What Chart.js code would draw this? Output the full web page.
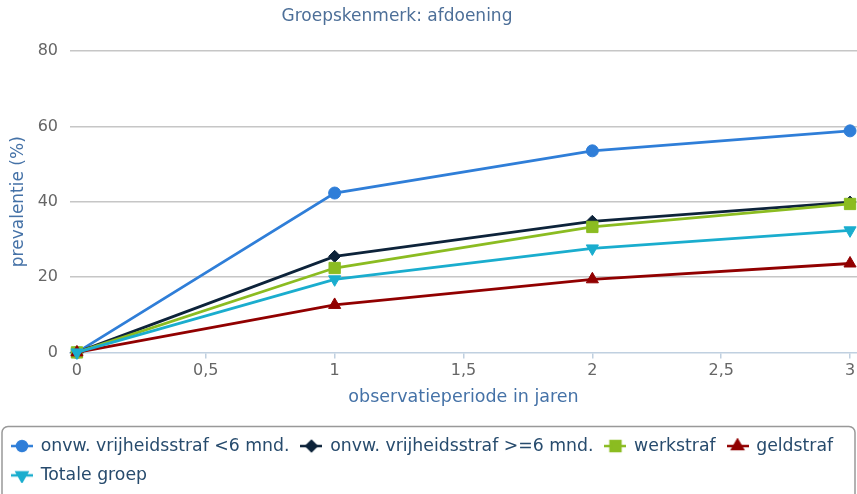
<!DOCTYPE html>
<html>
<head>
<meta charset="utf-8">
<script src="https://cdn.jsdelivr.net/npm/chart.js@4.4.1/dist/chart.umd.min.js"></script>
<style>
    html, body { margin: 0; padding: 0; background: #fff; overflow: hidden; }
    #canvas_div_id { width: 857px; height: 494px; }
</style>
</head>
<body>
<div id="canvas_div_id"><canvas id="myChart" width="857" height="494"></canvas></div>
<script>
(function(){
    'use strict';
    // chart data
    const chartTitle = 'Groepskenmerk: afdoening';
    const xAxisTitle = 'observatieperiode in jaren';
    const yAxisTitle = 'prevalentie (%)';
    const years = [0, 1, 2, 3];
    const xTicks = [0, 0.5, 1, 1.5, 2, 2.5, 3];
    const yTicks = [0, 20, 40, 60, 80];
    const seriesNames = ['onvw. vrijheidsstraf <6 mnd.', 'onvw. vrijheidsstraf >=6 mnd.', 'werkstraf', 'geldstraf', 'Totale groep'];
    const kortVrijheid = [0, 42.3, 53.5, 58.8];
    const langVrijheid = [0, 25.5, 34.8, 39.9];
    const werkstraf = [0, 22.4, 33.3, 39.4];
    const geldstraf = [0, 12.6, 19.4, 23.6];
    const totaleGroep = [0, 19.4, 27.6, 32.4];

    const seriesValues = [kortVrijheid, langVrijheid, werkstraf, geldstraf, totaleGroep];
    const colors = ['#2f7ed8', '#0d233a', '#8bbc21', '#910000', '#1aadce'];
    const markers = [
        {style: 'circle', rotation: 0, radius: 6, legendRadius: 5},
        {style: 'rectRot', rotation: 0, radius: 6, legendRadius: 5},
        {style: 'rect', rotation: 0, radius: 8, legendRadius: 7},
        {style: 'triangle', rotation: 0, radius: 7, legendRadius: 6},
        {style: 'triangle', rotation: 180, radius: 7, legendRadius: 6}
    ];
    // later series on top, like the original
    const drawOrder = [4, 3, 2, 1, 0];

    const fontFamily = '"DejaVu Sans", Verdana, sans-serif';
    const axisTitleColor = '#4572a7';
    const tickColor = '#666666';
    Chart.defaults.font.family = fontFamily;

    // legend symbol: short line with the marker in the middle
    const makeIcon = (color, marker) => {
        const c = document.createElement('canvas');
        c.width = 22;
        c.height = 16;
        const ctx = c.getContext('2d');
        ctx.strokeStyle = color;
        ctx.fillStyle = color;
        ctx.lineWidth = 2.5;
        ctx.beginPath();
        ctx.moveTo(0, 8);
        ctx.lineTo(22, 8);
        ctx.stroke();
        Chart.helpers.drawPoint(ctx, {pointStyle: marker.style, rotation: marker.rotation, radius: marker.legendRadius, borderWidth: 1}, 11, 8);
        return c;
    };
    const legendIcons = colors.map((color, i) => makeIcon(color, markers[i]));

    const datasets = seriesNames.map((name, i) => ({
        label: name,
        data: years.map((x, j) => ({x: x, y: seriesValues[i][j]})),
        borderColor: colors[i],
        backgroundColor: colors[i],
        borderWidth: 2.8,
        pointStyle: markers[i].style,
        pointRotation: markers[i].rotation,
        pointRadius: markers[i].radius,
        pointBorderWidth: 1,
        tension: 0,
        clip: false,
        order: drawOrder[i]
    }));

    const titlePlugin = {
        id: 'customTitle',
        afterDraw(chart){
            const ctx = chart.ctx;
            ctx.save();
            ctx.font = '17px ' + fontFamily;
            ctx.fillStyle = '#4d6f98';
            ctx.textAlign = 'center';
            ctx.textBaseline = 'middle';
            ctx.fillText(chartTitle, 397, 17);
            ctx.restore();
        }
    };

    // rounded frame round the legend, bottom runs off the picture
    const legendFrame = {
        id: 'legendFrame',
        afterDraw(chart){
            const lg = chart.legend;
            const ctx = chart.ctx;
            ctx.save();
            ctx.strokeStyle = '#999999';
            ctx.lineWidth = 1.5;
            ctx.beginPath();
            ctx.roundRect(lg.left + 2, lg.top + 1, lg.width - 4, lg.height + 20, 6);
            ctx.stroke();
            ctx.restore();
        }
    };

    const ctx = document.getElementById('myChart');
    new Chart(ctx, {
        type: 'line',
        data: {datasets: datasets},
        plugins: [titlePlugin, legendFrame],
        options: {
            responsive: false,
            animation: false,
            layout: {autoPadding: false, padding: {top: 51, left: 0, right: 0, bottom: 0}},
            plugins: {
                title: {display: false},
                tooltip: {enabled: false},
                legend: {
                    position: 'bottom',
                    align: 'start',
                    labels: {
                        usePointStyle: true,
                        pointStyleWidth: 20,
                        padding: 12,
                        color: '#274b6d',
                        font: {size: 17.3, family: fontFamily},
                        sort: (a, b) => a.datasetIndex - b.datasetIndex,
                        generateLabels(chart){
                            const items = Chart.defaults.plugins.legend.labels.generateLabels(chart);
                            items.forEach(item => {
                                item.pointStyle = legendIcons[item.datasetIndex];
                                item.rotation = 0;
                            });
                            return items;
                        }
                    }
                }
            },
            scales: {
                x: {
                    type: 'linear',
                    min: -0.027,
                    max: 3.027,
                    afterBuildTicks: s => { s.ticks = xTicks.map(v => ({value: v})); },
                    afterFit: s => {
                        s.height = 73;
                        s.paddingLeft = 0;
                        s.paddingRight = 0;
                    },
                    border: {color: '#c0d0e0', width: 1.5},
                    grid: {drawOnChartArea: false, drawTicks: true, tickLength: 6, color: '#c0d0e0', lineWidth: 1.5},
                    ticks: {
                        padding: 3,
                        color: tickColor,
                        font: {size: 16},
                        maxRotation: 0,
                        autoSkip: false,
                        callback: v => String(v).replace('.', ',')
                    },
                    title: {
                        display: true,
                        text: xAxisTitle,
                        color: axisTitleColor,
                        font: {size: 17.5},
                        padding: {top: 4, bottom: 17}
                    }
                },
                y: {
                    min: 0,
                    max: 80,
                    afterBuildTicks: s => { s.ticks = yTicks.map(v => ({value: v})); },
                    afterFit: s => { s.width = 70; },
                    border: {display: false},
                    grid: {
                        drawTicks: false,
                        lineWidth: 1.5,
                        color: c => (c.tick && c.tick.value === 0) ? 'rgba(0,0,0,0)' : '#c6c6c6'
                    },
                    ticks: {padding: 12, color: tickColor, font: {size: 16}},
                    title: {
                        display: true,
                        text: yAxisTitle,
                        color: axisTitleColor,
                        font: {size: 17},
                        padding: {top: 8, bottom: 0}
                    }
                }
            }
        }
    });
})();
</script>
</body>
</html>
